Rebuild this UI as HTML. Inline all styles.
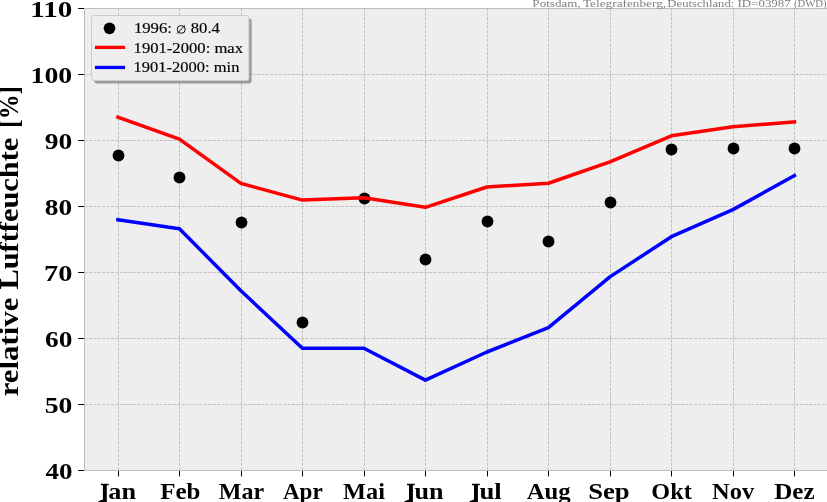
<!DOCTYPE html>
<html><head><meta charset="utf-8"><style>
html,body{margin:0;padding:0;background:#fff;width:827px;height:502px;overflow:hidden}
svg{display:block;will-change:transform}
text{font-family:"Liberation Serif",serif}
</style></head><body>
<svg width="827" height="502" viewBox="0 0 827 502">
<rect x="84.5" y="8.5" width="752.5" height="462.0" fill="#eeeeee"/>
<path d="M118.5 470.5V8.5M179.5 470.5V8.5M241.5 470.5V8.5M302.5 470.5V8.5M364.5 470.5V8.5M425.5 470.5V8.5M487.5 470.5V8.5M548.5 470.5V8.5M610.5 470.5V8.5M671.5 470.5V8.5M733.5 470.5V8.5M794.5 470.5V8.5" stroke="#b2b2b2" stroke-width="0.75" stroke-dasharray="3.084 1.333" fill="none"/>
<path d="M84.5 404.5H832M84.5 338.5H832M84.5 272.5H832M84.5 206.5H832M84.5 140.5H832M84.5 74.5H832" stroke="#b2b2b2" stroke-width="0.75" stroke-dasharray="3.084 1.333" fill="none"/>
<path d="M84.5 8.5V470.5M84.5 8.5H832M84.5 470.5H832" stroke="#bcbcbc" stroke-width="1" fill="none"/>
<path d="M78.2 470.5H84M78.2 404.5H84M78.2 338.5H84M78.2 272.5H84M78.2 206.5H84M78.2 140.5H84M78.2 74.5H84M78.2 8.5H84M118.5 471V476.4M179.5 471V476.4M241.5 471V476.4M302.5 471V476.4M364.5 471V476.4M425.5 471V476.4M487.5 471V476.4M548.5 471V476.4M610.5 471V476.4M671.5 471V476.4M733.5 471V476.4M794.5 471V476.4" stroke="#000" stroke-width="1" fill="none"/>
<circle cx="118.5" cy="155.5" r="5.9" fill="#000"/>
<circle cx="179.5" cy="177.5" r="5.9" fill="#000"/>
<circle cx="241.5" cy="222.5" r="5.9" fill="#000"/>
<circle cx="302.5" cy="322.5" r="5.9" fill="#000"/>
<circle cx="364.5" cy="198.5" r="5.9" fill="#000"/>
<circle cx="425.5" cy="259.5" r="5.9" fill="#000"/>
<circle cx="487.5" cy="221.5" r="5.9" fill="#000"/>
<circle cx="548.5" cy="241.5" r="5.9" fill="#000"/>
<circle cx="610.5" cy="202.5" r="5.9" fill="#000"/>
<circle cx="671.5" cy="149.5" r="5.9" fill="#000"/>
<circle cx="733.5" cy="148.5" r="5.9" fill="#000"/>
<circle cx="794.5" cy="148.5" r="5.9" fill="#000"/>
<polyline points="117.90,117.2 179.40,139.1 240.90,183.4 302.40,200.1 363.90,197.85 425.40,207.3 486.90,187.0 548.40,183.25 609.90,161.9 671.40,135.8 732.90,126.75 794.40,121.85" stroke="#ff0000" stroke-width="3.5" fill="none" stroke-linejoin="round" stroke-linecap="square"/>
<polyline points="117.90,219.65 179.40,228.65 240.90,290.8 302.40,348.2 363.90,348.2 425.40,380.15 486.90,352.0 548.40,327.6 609.90,276.9 671.40,236.7 732.90,209.6 794.40,175.6" stroke="#0000ff" stroke-width="3.5" fill="none" stroke-linejoin="round" stroke-linecap="square"/>
<rect x="94.3" y="18.4" width="157.4" height="65.0" rx="2.8" fill="#474747" fill-opacity="0.5"/>
<rect x="91.5" y="15.5" width="157.4" height="65.0" rx="2.8" fill="#eeeeee" stroke="#cccccc" stroke-width="1"/>
<circle cx="109.5" cy="28.3" r="5.85" fill="#000"/>
<path d="M94.9 47.4H125.1" stroke="#ff0000" stroke-width="3.3"/>
<path d="M94.9 67.45H125.1" stroke="#0000ff" stroke-width="3.3"/>
<g font-size="14.0" fill="#000" stroke="#000" stroke-width="0.15">
<text x="133.90" y="32.9" textLength="38.08" lengthAdjust="spacingAndGlyphs">1996:</text>
<ellipse cx="181.25" cy="29.4" rx="4.0" ry="3.9" fill="none" stroke="#000" stroke-width="0.95"/><path d="M177.2 33.6L184.8 25.3" stroke="#000" stroke-width="0.95"/>
<text x="190.79" y="32.9" textLength="29.10" lengthAdjust="spacingAndGlyphs">80.4</text>
<text x="133.57" y="52.7" textLength="109.51" lengthAdjust="spacingAndGlyphs">1901-2000: max</text>
<text x="133.54" y="71.7" textLength="105.86" lengthAdjust="spacingAndGlyphs">1901-2000: min</text>
</g>
<g font-weight="bold" font-size="22.9" fill="#000">
<text x="45.55" y="478.9" textLength="27.00" lengthAdjust="spacingAndGlyphs">40</text>
<text x="44.72" y="412.9" textLength="27.68" lengthAdjust="spacingAndGlyphs">50</text>
<text x="44.95" y="346.9" textLength="27.38" lengthAdjust="spacingAndGlyphs">60</text>
<text x="44.05" y="280.9" textLength="28.37" lengthAdjust="spacingAndGlyphs">70</text>
<text x="44.83" y="214.9" textLength="27.35" lengthAdjust="spacingAndGlyphs">80</text>
<text x="44.73" y="148.9" textLength="27.49" lengthAdjust="spacingAndGlyphs">90</text>
<text x="30.51" y="82.9" textLength="41.70" lengthAdjust="spacingAndGlyphs">100</text>
<text x="30.33" y="16.9" textLength="42.02" lengthAdjust="spacingAndGlyphs">110</text>
</g>
<g font-weight="bold" font-size="22.9" fill="#000">
<text x="108.28" y="498.7" textLength="27.72" lengthAdjust="spacingAndGlyphs">an</text>
<text x="160.18" y="498.7" textLength="40.13" lengthAdjust="spacingAndGlyphs">Feb</text>
<text x="218.75" y="498.7" textLength="45.43" lengthAdjust="spacingAndGlyphs">Mar</text>
<text x="282.91" y="498.7" textLength="39.83" lengthAdjust="spacingAndGlyphs">Apr</text>
<text x="343.00" y="498.7" textLength="41.90" lengthAdjust="spacingAndGlyphs">Mai</text>
<text x="414.41" y="498.7" textLength="29.01" lengthAdjust="spacingAndGlyphs">un</text>
<text x="479.43" y="498.7" textLength="22.25" lengthAdjust="spacingAndGlyphs">ul</text>
<text x="526.65" y="498.7" textLength="43.97" lengthAdjust="spacingAndGlyphs">Aug</text>
<text x="588.17" y="498.7" textLength="41.42" lengthAdjust="spacingAndGlyphs">Sep</text>
<text x="651.37" y="498.7" textLength="40.45" lengthAdjust="spacingAndGlyphs">Okt</text>
<text x="712.12" y="498.7" textLength="42.04" lengthAdjust="spacingAndGlyphs">Nov</text>
<text x="774.18" y="498.7" textLength="40.47" lengthAdjust="spacingAndGlyphs">Dez</text>
</g>
<path d="M100.9 483.7H108.6V485.2H106.8V503H98.3V501.2L102.9 499.6V485.2H100.9ZM407.0 483.7H414.7V485.2H412.9V503H404.4V501.2L409.0 499.6V485.2H407.0ZM472.0 483.7H479.7V485.2H477.9V503H469.4V501.2L474.0 499.6V485.2H472.0Z" fill="#000"/>
<g font-weight="bold" font-size="28.3">
<text transform="translate(18.1 396.28) rotate(-90)" textLength="98.60" lengthAdjust="spacingAndGlyphs">relative</text>
<text transform="translate(18.1 289.54) rotate(-90)" textLength="151.77" lengthAdjust="spacingAndGlyphs">Luftfeuchte</text>
<text transform="translate(18.1 127.63) rotate(-90)" textLength="41.39" lengthAdjust="spacingAndGlyphs">[%]</text>
</g>
<g font-size="10.5" fill="#808080">
<text x="532.38" y="6.8" textLength="48.25" lengthAdjust="spacingAndGlyphs">Potsdam,</text>
<text x="582.93" y="6.8" textLength="83.22" lengthAdjust="spacingAndGlyphs">Telegrafenberg,</text>
<text x="667.36" y="6.8" textLength="66.93" lengthAdjust="spacingAndGlyphs">Deutschland:</text>
<text x="737.56" y="6.8" textLength="53.22" lengthAdjust="spacingAndGlyphs">ID=03987</text>
<text x="793.97" y="6.8" textLength="32.66" lengthAdjust="spacingAndGlyphs">(DWD)</text>
</g>
</svg>
</body></html>
